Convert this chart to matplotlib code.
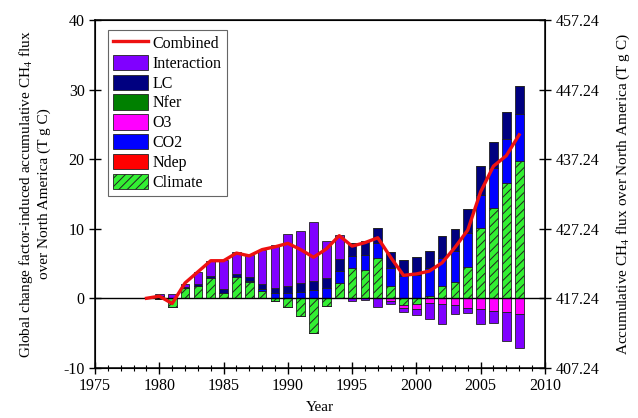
import numpy as np
import matplotlib
matplotlib.use('Agg')
import matplotlib.pyplot as plt
from matplotlib.patches import Patch
from matplotlib.lines import Line2D
from matplotlib.ticker import MultipleLocator

plt.rcParams['font.family'] = 'Liberation Serif'
plt.rcParams['mathtext.fontset'] = 'stix'
plt.rcParams['axes.unicode_minus'] = False
plt.rcParams['hatch.linewidth'] = 0.7

# данные по годам (Tg C)
years = list(range(1980, 2009))
climate = [-0.15, -1.25, 1.45, 1.75, 2.9, 0.7, 3.0, 2.3, 1.0, -0.45, -1.25, -2.6, -5.0, -1.1, 2.25,
           4.35, 4.1, 5.8, 1.8, -1.0, -0.85, 0.35, 1.8, 2.3, 4.5, 10.1, 13.05, 16.6, 19.8]
ndep = [0.0] * 29
co2 = [0, 0, 0, 0, 0, 0.1, 0, 0.2, 0.4, 0.8, 0.8, 0.95, 1.2, 1.45, 1.65,
       1.8, 2.15, 2.2, 2.6, 3.15, 3.4, 4.05, 4.0, 4.55, 4.85, 4.8, 5.75, 6.35, 6.7]
o3 = [0] * 18 + [-0.4, -0.45, -0.7, -0.7, -0.85, -1.0, -1.4, -1.6, -1.8, -1.9, -2.3]
nfer = [0.0] * 29
lc = [0.3, 0.1, 0.2, 0.3, 0.35, 0.55, 0.55, 0.5, 0.7, 0.7, 0.95, 1.2, 1.3, 1.5, 1.7,
      1.85, 1.95, 2.05, 2.3, 2.35, 2.55, 2.4, 3.1, 3.1, 3.45, 4.05, 3.7, 3.85, 4.0]
interaction = [0.25, 0.5, 0.4, 1.8, 2.15, 4.1, 3.05, 3.25, 4.9, 6.15, 7.45, 7.55, 8.4, 5.25, 3.5,
               -0.45, -0.2, -1.3, -0.45, -0.55, -0.85, -2.3, -2.85, -1.3, -0.75, -2.1, -1.8, -4.2, -4.8]

line_years = list(range(1979, 2009))
combined = [0, 0.3, -0.75, 2.2, 3.8, 5.4, 5.4, 6.5, 6.1, 7.0, 7.4, 7.9, 7.0, 5.9, 7.1,
            9.0, 7.5, 8.0, 8.7, 5.9, 3.3, 3.5, 3.9, 5.1, 7.3, 9.8, 15.3, 19.0, 20.5, 23.5]

# порядок укладки снизу вверх
factors = [
    ('Climate', climate, '#33f033', '////'),
    ('Ndep', ndep, '#ff0000', None),
    ('CO2', co2, '#0000ff', None),
    ('O3', o3, '#ff00ff', None),
    ('Nfer', nfer, '#008000', None),
    ('LC', lc, '#000080', None),
    ('Interaction', interaction, '#8000ff', None),
]

fig = plt.figure(figsize=(6.38, 4.18), dpi=100)
ax = fig.add_axes([0.149, 0.120, 0.705, 0.832])

pos_bottom = np.zeros(len(years))
neg_bottom = np.zeros(len(years))
for name, vals, color, hatch in factors:
    v = np.array(vals, dtype=float)
    pos = np.where(v > 0, v, 0)
    neg = np.where(v < 0, v, 0)
    ax.bar(years, pos, 0.68, bottom=pos_bottom, color=color, edgecolor='#222222',
           linewidth=0.6, hatch=hatch)
    ax.bar(years, neg, 0.68, bottom=neg_bottom, color=color, edgecolor='#222222',
           linewidth=0.6, hatch=hatch)
    pos_bottom += pos
    neg_bottom += neg

ax.axhline(0, color='black', linewidth=1.0, zorder=1)
ax.plot(line_years, combined, color='#ee1111', linewidth=2.4, zorder=5)

ax.set_xlim(1975, 2010)
ax.set_ylim(-10, 40)
ax.xaxis.set_major_locator(MultipleLocator(5))
ax.xaxis.set_minor_locator(MultipleLocator(1))
ax.yaxis.set_major_locator(MultipleLocator(10))
ax.tick_params(axis='both', which='major', direction='inout', length=8, width=1.0, labelsize=11.5)
ax.tick_params(axis='x', which='minor', direction='inout', length=4, width=0.8)
for s in ax.spines.values():
    s.set_linewidth(1.1)
ax.set_xlabel('Year', fontsize=11, labelpad=5)
ax.set_ylabel('Global change factor-induced accumulative CH$_4$ flux\nover North America (T g C)',
              fontsize=11, labelpad=9)

ax2 = ax.twinx()
ax2.set_ylim(407.24, 457.24)
ax2.set_yticks([407.24 + 10 * i for i in range(6)])
ax2.set_yticklabels(['%.2f' % (407.24 + 10 * i) for i in range(6)])
ax2.tick_params(axis='y', direction='inout', length=8, width=1.0, labelsize=11.5)
ax2.set_ylabel('Accumulative CH$_4$ flux over North America (T g C)', fontsize=11, labelpad=11)

handles = [Line2D([0], [0], color='#ee1111', linewidth=2.4)]
labels = ['Combined']
for name in ['Interaction', 'LC', 'Nfer', 'O3', 'CO2', 'Ndep', 'Climate']:
    for n, vals, color, hatch in factors:
        if n == name:
            handles.append(Patch(facecolor=color, edgecolor='#222222', linewidth=0.6, hatch=hatch))
            labels.append(name)
leg = ax.legend(handles, labels, loc='upper left', bbox_to_anchor=(0.029, 0.971), fontsize=11.5,
                fancybox=False, edgecolor='#666666', framealpha=1, handlelength=2.2,
                handleheight=1.1, labelspacing=0.17, borderpad=0.3, handletextpad=0.3,
                borderaxespad=0)
leg.get_frame().set_linewidth(0.8)

fig.savefig('out.png', dpi=100)
